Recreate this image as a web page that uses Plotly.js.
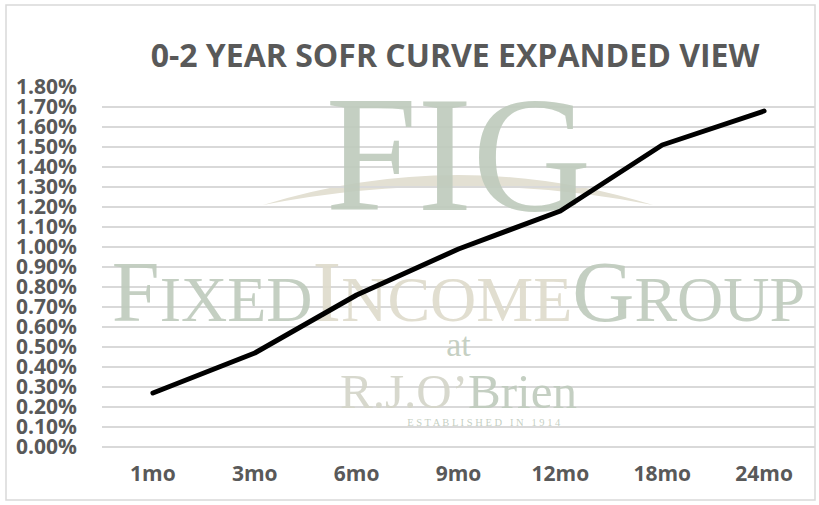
<!DOCTYPE html>
<html>
<head>
<meta charset="utf-8">
<script src="https://cdn.plot.ly/plotly-3.0.1.min.js"></script>
<style>
html,body{margin:0;padding:0;background:#fff;}
#chart{width:819px;height:505px;}
#chart .js-line{stroke-linecap:round !important;stroke-linejoin:round !important;}
</style>
</head>
<body>
<div id="chart"></div>
<script>
// ---- data ----
const categories = ['1mo', '3mo', '6mo', '9mo', '12mo', '18mo', '24mo'];
const sofrRates = [0.27, 0.47, 0.76, 0.99, 1.18, 1.51, 1.68]; // percent
const yTickSuffix = '%';
const chartTitle = '0-2 YEAR SOFR CURVE EXPANDED VIEW';

// ---- watermark (decorative logo text) ----
const wmText = [
  'FIG',
  '<span style="font-size:86px">F</span>IXED<span style="font-size:86px;color:#dedacb">I</span><span style="color:#dedacb">NCOME</span><span style="font-size:86px">G</span>ROUP',
  'at',
  '<span style="color:#d3d4c8">R.J.O\u2019</span>Brien',
  'E S T A B L I S H E D   I N   1 9 1 4'
];
const wmX = [categories[3], categories[3], categories[3], categories[3], categories[4]];
const wmY = [1.39, 0.71, 0.50, 0.2575, 0.12];
const wmSize = [165, 64, 34, 49, 10.5];
const wmPos = ['middle center', 'middle center', 'middle center', 'middle center', 'middle left'];

const grey = '#595959';
const tickFont = {family: 'Open Sans', size: 21, color: grey, weight: 'bold'};

const traces = [
  {
    type: 'scatter', mode: 'text',
    x: wmX, y: wmY,
    text: wmText, textposition: wmPos,
    textfont: {family: 'Liberation Serif', size: wmSize, color: 'rgba(190,202,187,0.9)'},
    hoverinfo: 'skip', showlegend: false, cliponaxis: false
  },
  {
    type: 'scatter', mode: 'lines',
    x: categories, y: sofrRates,
    line: {color: '#000000', width: 5},
    showlegend: false
  }
];

const px2paperX = p => (p - 102) / 713;
const px2paperY = p => (447 - p) / 360;

const layout = {
  width: 819, height: 505,
  margin: {l: 102, r: 4, t: 87, b: 58},
  paper_bgcolor: '#ffffff', plot_bgcolor: '#ffffff',
  showlegend: false,
  title: {
    text: chartTitle,
    font: {family: 'Open Sans', size: 32, color: grey, weight: 'bold'},
    x: 455 / 819, xanchor: 'center', xref: 'container',
    y: 1 - 56 / 505, yanchor: 'middle', yref: 'container'
  },
  xaxis: {
    type: 'category', categoryorder: 'array', categoryarray: categories,
    range: [-0.5, categories.length - 0.5],
    showgrid: false, zeroline: false, showline: false, ticks: '',
    tickfont: tickFont, ticklabelstandoff: 12, fixedrange: true
  },
  yaxis: {
    range: [0, 1.8], tick0: 0, dtick: 0.1,
    tickformat: '.2f', ticksuffix: yTickSuffix,
    showgrid: true, gridcolor: '#d9d9d9', gridwidth: 1.5,
    zeroline: true, zerolinecolor: '#d9d9d9', zerolinewidth: 1.5,
    showline: false, ticks: '',
    tickfont: tickFont, ticklabelstandoff: 24, fixedrange: true
  },
  shapes: [
    {
      type: 'path', xref: 'paper', yref: 'paper', layer: 'below',
      path: `M ${px2paperX(263)},${px2paperY(205)} Q ${px2paperX(458)},${px2paperY(145)} ${px2paperX(653)},${px2paperY(205)} Q ${px2paperX(458)},${px2paperY(167)} ${px2paperX(263)},${px2paperY(205)} Z`,
      fillcolor: '#e3e0d3', line: {width: 0}
    },
    {
      type: 'rect', xref: 'paper', yref: 'paper', layer: 'above',
      x0: px2paperX(6), x1: px2paperX(815), y0: px2paperY(500), y1: px2paperY(5),
      line: {color: '#d9d9d9', width: 1.5}, fillcolor: 'rgba(0,0,0,0)'
    }
  ]
};

Plotly.newPlot('chart', traces, layout, {displayModeBar: false, staticPlot: true});
</script>
</body>
</html>
